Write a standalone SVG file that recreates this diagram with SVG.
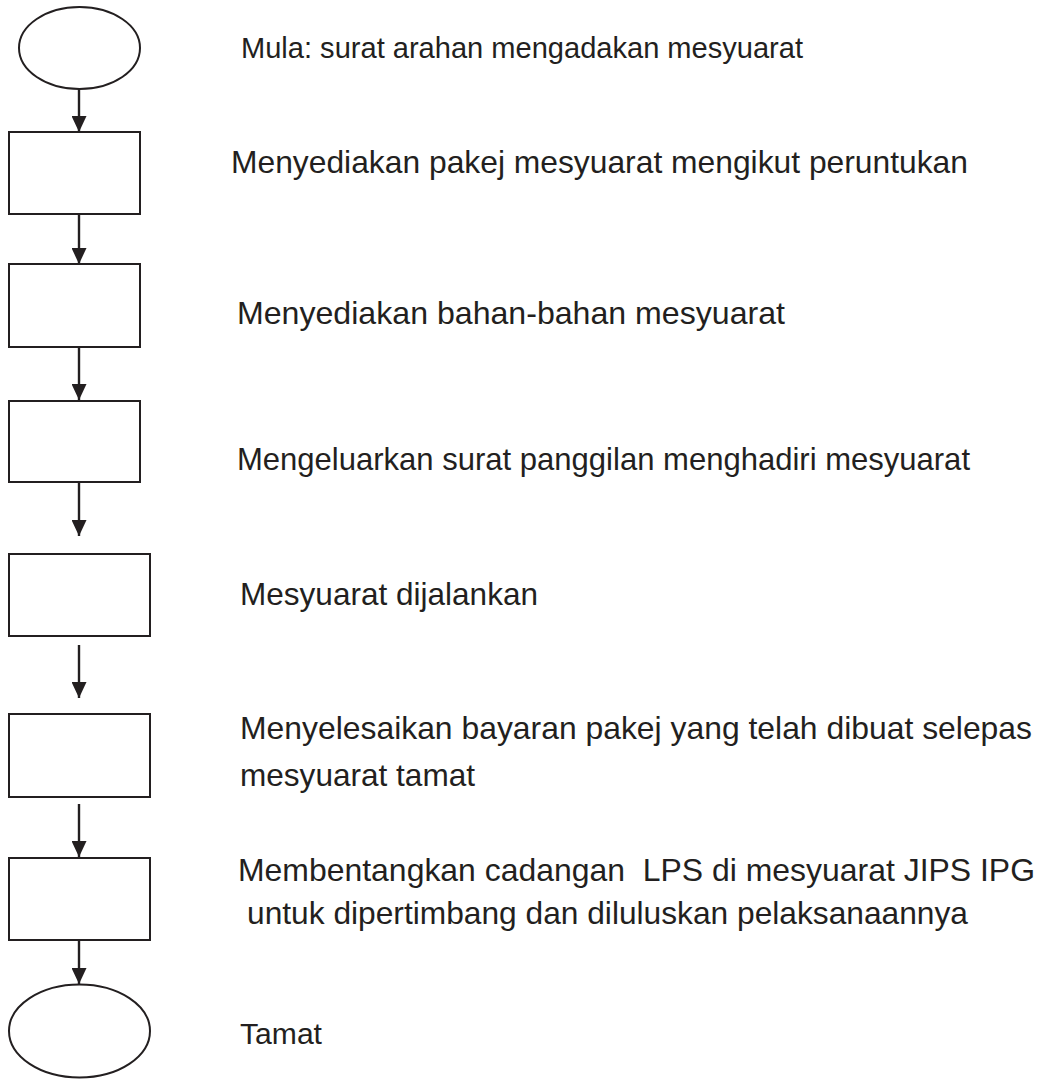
<svg xmlns="http://www.w3.org/2000/svg" width="1043" height="1079" viewBox="0 0 1043 1079">
<style>
.shape{fill:#fff;stroke:#231f20;stroke-width:2}
.conn{stroke:#231f20;stroke-width:2.4;fill:none}
.lbl{font-family:"Liberation Sans",Arial,Helvetica,sans-serif;fill:#231f20;font-size:31.5px}
.sm{font-size:29px}
</style>
<defs>
<marker id="ad" markerUnits="userSpaceOnUse" markerWidth="15" markerHeight="16" refX="7.5" refY="16" orient="0" viewBox="0 0 15 16">
<path d="M0,0 L15,0 L7.5,16 Z" fill="#231f20"/>
</marker>
</defs>
<rect width="1043" height="1079" fill="#fff"/>
<g id="connectors">
<line class="conn" x1="79" y1="89" x2="79" y2="132" marker-end="url(#ad)"/>
<line class="conn" x1="79" y1="211" x2="79" y2="264" marker-end="url(#ad)"/>
<line class="conn" x1="79" y1="347" x2="79" y2="400" marker-end="url(#ad)"/>
<line class="conn" x1="79" y1="482" x2="79" y2="536" marker-end="url(#ad)"/>
<line class="conn" x1="79" y1="645" x2="79" y2="698" marker-end="url(#ad)"/>
<line class="conn" x1="79" y1="804" x2="79" y2="857" marker-end="url(#ad)"/>
<line class="conn" x1="79" y1="940" x2="79" y2="984" marker-end="url(#ad)"/>
</g>
<g id="start"><ellipse class="shape" cx="79.5" cy="48" rx="60.5" ry="41"/></g>
<g id="step1"><rect class="shape" x="9" y="132" width="131" height="82"/></g>
<g id="step2"><rect class="shape" x="9" y="264" width="131" height="83"/></g>
<g id="step3"><rect class="shape" x="9" y="401" width="131" height="81"/></g>
<g id="step4"><rect class="shape" x="9" y="554" width="141" height="82"/></g>
<g id="step5"><rect class="shape" x="9" y="714" width="141" height="83"/></g>
<g id="step6"><rect class="shape" x="9" y="858" width="141" height="82"/></g>
<g id="end"><ellipse class="shape" cx="79.5" cy="1031" rx="70.5" ry="46.5"/></g>
<g id="labels">
<text class="lbl sm" x="241" y="58" textLength="562" lengthAdjust="spacingAndGlyphs">Mula: surat arahan mengadakan mesyuarat</text>
<text class="lbl" x="231" y="173" textLength="737" lengthAdjust="spacingAndGlyphs">Menyediakan pakej mesyuarat mengikut peruntukan</text>
<text class="lbl" x="237" y="324" textLength="548" lengthAdjust="spacingAndGlyphs">Menyediakan bahan-bahan mesyuarat</text>
<text class="lbl" x="237" y="470" textLength="733" lengthAdjust="spacingAndGlyphs">Mengeluarkan surat panggilan menghadiri mesyuarat</text>
<text class="lbl" x="240" y="605" textLength="298" lengthAdjust="spacingAndGlyphs">Mesyuarat dijalankan</text>
<text class="lbl" x="240" y="739" textLength="792" lengthAdjust="spacingAndGlyphs">Menyelesaikan bayaran pakej yang telah dibuat selepas</text>
<text class="lbl" x="240" y="786" textLength="235" lengthAdjust="spacingAndGlyphs">mesyuarat tamat</text>
<text class="lbl" x="238" y="881" xml:space="preserve" textLength="797" lengthAdjust="spacingAndGlyphs">Membentangkan cadangan  LPS di mesyuarat JIPS IPG</text>
<text class="lbl" x="247" y="924" textLength="721" lengthAdjust="spacingAndGlyphs">untuk dipertimbang dan diluluskan pelaksanaannya</text>
<text class="lbl sm" x="240" y="1044" textLength="82" lengthAdjust="spacingAndGlyphs">Tamat</text>
</g>
</svg>
